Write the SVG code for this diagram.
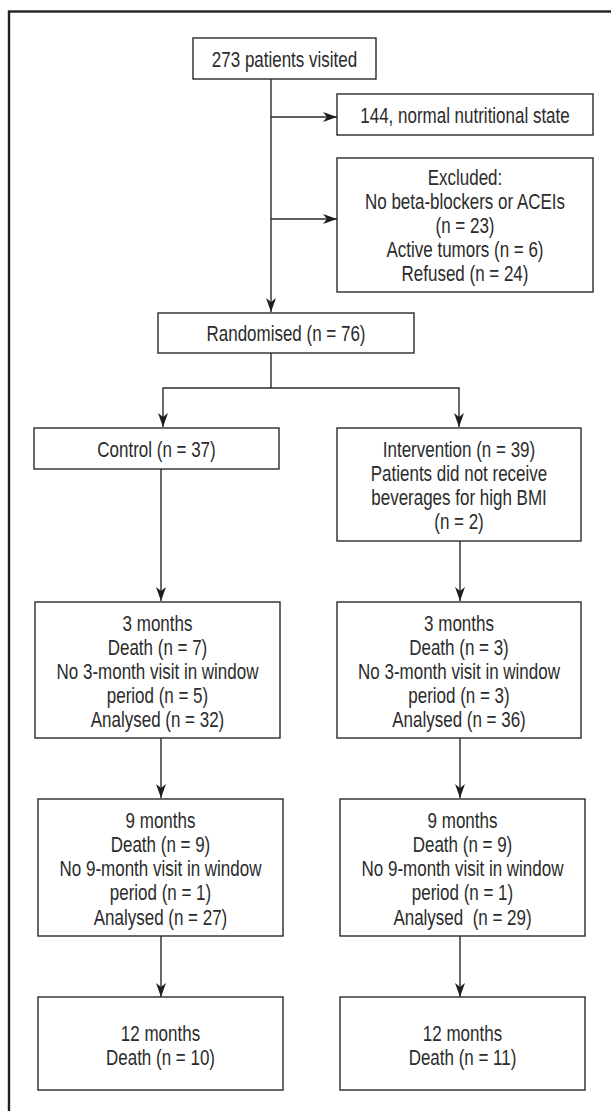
<svg xmlns="http://www.w3.org/2000/svg" width="611" height="1111" viewBox="0 0 611 1111">
<style>
.bg{fill:#ffffff}
.frame{fill:none;stroke:#222;stroke-width:2.4}
.box{fill:#fff;stroke:#2a2a2a;stroke-width:1.4}
.t{font-family:"Liberation Sans",Arial,sans-serif;font-size:21.5px;fill:#2b2b2b;text-anchor:middle}
.c{fill:none;stroke:#2a2a2a;stroke-width:1.4}
.a{marker-end:url(#arr)}
</style>
<defs>
<marker id="arr" viewBox="-15 -6 16 12" refX="0" refY="0" markerWidth="16" markerHeight="12" markerUnits="userSpaceOnUse" orient="auto">
<path d="M0,0 L-14,-5 L-10,0 L-14,5 Z" fill="#1e1e1e"/>
</marker>
</defs>
<rect class="bg" x="0" y="0" width="611" height="1111"/>
<rect class="frame" x="9" y="11.5" width="640" height="1140"/>

<g id="connectors">
<path class="c a" d="M271 79 V312"/>
<path class="c a" d="M271 117 H337"/>
<path class="c a" d="M271 219 H337"/>
<path class="c" d="M271 353 V388"/>
<path class="c a" d="M271 388 H163 V427"/>
<path class="c a" d="M271 388 H459 V427"/>
<path class="c a" d="M161 469 V601"/>
<path class="c a" d="M460 541 V601"/>
<path class="c a" d="M161 738 V798"/>
<path class="c a" d="M460 738 V798"/>
<path class="c a" d="M161 936 V997"/>
<path class="c a" d="M460 936 V997"/>
</g>

<g id="visited">
<rect class="box" x="193" y="38" width="183" height="41"/>
<g transform="translate(284.5 0) scale(0.79 1)">
<text class="t" x="0" y="67.5">273 patients visited</text>
</g>
</g>

<g id="normal">
<rect class="box" x="337" y="94" width="256" height="41"/>
<g transform="translate(465 0) scale(0.79 1)">
<text class="t" x="0" y="123.5">144, normal nutritional state</text>
</g>
</g>

<g id="excluded">
<rect class="box" x="337" y="158" width="256" height="134"/>
<g transform="translate(465 0) scale(0.79 1)">
<text class="t" x="0" y="185.5">Excluded:</text>
<text class="t" x="0" y="209.5">No beta-blockers or ACEIs</text>
<text class="t" x="0" y="233.5">(n = 23)</text>
<text class="t" x="0" y="257.5">Active tumors (n = 6)</text>
<text class="t" x="0" y="281.5">Refused (n = 24)</text>
</g>
</g>

<g id="randomised">
<rect class="box" x="158" y="313" width="256" height="40"/>
<g transform="translate(286 0) scale(0.79 1)">
<text class="t" x="0" y="341.5">Randomised (n = 76)</text>
</g>
</g>

<g id="control">
<rect class="box" x="34" y="428" width="245" height="41"/>
<g transform="translate(156.5 0) scale(0.79 1)">
<text class="t" x="0" y="457.5">Control (n = 37)</text>
</g>
</g>

<g id="intervention">
<rect class="box" x="337" y="428" width="244" height="113"/>
<g transform="translate(459 0) scale(0.79 1)">
<text class="t" x="0" y="457.5">Intervention (n = 39)</text>
<text class="t" x="0" y="481.5">Patients did not receive</text>
<text class="t" x="0" y="505.5">beverages for high BMI</text>
<text class="t" x="0" y="529.5">(n = 2)</text>
</g>
</g>

<g id="control-3m">
<rect class="box" x="35" y="602" width="245" height="136"/>
<g transform="translate(157.5 0) scale(0.79 1)">
<text class="t" x="0" y="631.5">3 months</text>
<text class="t" x="0" y="655.5">Death (n = 7)</text>
<text class="t" x="0" y="679.5">No 3-month visit in window</text>
<text class="t" x="0" y="703.5">period (n = 5)</text>
<text class="t" x="0" y="727.5">Analysed (n = 32)</text>
</g>
</g>

<g id="intervention-3m">
<rect class="box" x="337" y="602" width="244" height="136"/>
<g transform="translate(459 0) scale(0.79 1)">
<text class="t" x="0" y="631.5">3 months</text>
<text class="t" x="0" y="655.5">Death (n = 3)</text>
<text class="t" x="0" y="679.5">No 3-month visit in window</text>
<text class="t" x="0" y="703.5">period (n = 3)</text>
<text class="t" x="0" y="727.5">Analysed (n = 36)</text>
</g>
</g>

<g id="control-9m">
<rect class="box" x="38" y="799" width="245" height="137"/>
<g transform="translate(160.5 0) scale(0.79 1)">
<text class="t" x="0" y="828.5">9 months</text>
<text class="t" x="0" y="852.5">Death (n = 9)</text>
<text class="t" x="0" y="876.5">No 9-month visit in window</text>
<text class="t" x="0" y="900.5">period (n = 1)</text>
<text class="t" x="0" y="925.5">Analysed (n = 27)</text>
</g>
</g>

<g id="intervention-9m">
<rect class="box" x="340" y="799" width="245" height="137"/>
<g transform="translate(462.5 0) scale(0.79 1)">
<text class="t" x="0" y="828.5">9 months</text>
<text class="t" x="0" y="852.5">Death (n = 9)</text>
<text class="t" x="0" y="876.5">No 9-month visit in window</text>
<text class="t" x="0" y="900.5">period (n = 1)</text>
<text class="t" x="0" y="925.5" style="white-space:pre">Analysed  (n = 29)</text>
</g>
</g>

<g id="control-12m">
<rect class="box" x="38" y="997" width="245" height="93"/>
<g transform="translate(160.5 0) scale(0.79 1)">
<text class="t" x="0" y="1041.5">12 months</text>
<text class="t" x="0" y="1065.5">Death (n = 10)</text>
</g>
</g>

<g id="intervention-12m">
<rect class="box" x="340" y="997" width="245" height="93"/>
<g transform="translate(462.5 0) scale(0.79 1)">
<text class="t" x="0" y="1041.5">12 months</text>
<text class="t" x="0" y="1065.5">Death (n = 11)</text>
</g>
</g>
</svg>
